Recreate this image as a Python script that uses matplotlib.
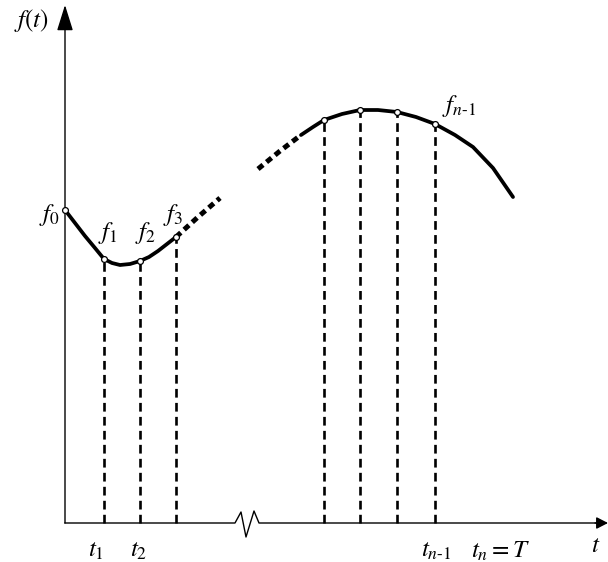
import matplotlib.pyplot as plt

plt.rcParams['mathtext.fontset'] = 'stix'
plt.rcParams['font.family'] = 'Liberation Serif'

# curve pieces (t along the horizontal axis, f up from it)
t_left = [0, 10, 20, 30, 39, 47, 55, 65, 75, 84, 93, 102, 111]
f_left = [313, 300, 287, 275, 264, 260, 258, 259, 262, 266, 272, 279, 286]
t_dot1 = [111, 133, 155]
f_dot1 = [286, 306, 325]
t_dot2 = [193, 215, 236]
f_dot2 = [354, 372, 388]
t_right = [236, 248, 259, 277, 295, 313, 332, 351, 370, 390, 408, 428, 448]
f_right = [388, 396, 403, 409, 413, 413, 411, 406, 399, 388, 376, 355, 326]

# sample points with their drop lines
t_samples = [39, 75, 111, 259, 295, 332, 370]
f_samples = [264, 262, 286, 403, 413, 411, 399]
t_start, f_start = 0, 313

# axis with the break mark
axis_t = [0, 170, 176, 181, 189, 194, 536]
axis_f = [0, 0, 11, -14, 12, 0, 0]

fig = plt.figure(figsize=(6.08, 5.62), dpi=100)
ax = fig.add_axes([0, 0, 1, 1])
ax.set_xlim(-65, 543)
ax.set_ylim(-39, 523)
ax.axis('off')

# axes
ax.plot(axis_t, axis_f, color='black', lw=1.0)
ax.annotate('', xy=(0, 518), xytext=(0, 0),
            arrowprops=dict(arrowstyle='-|>,head_length=1.6,head_width=0.5',
                            mutation_scale=10, lw=1.0, color='black',
                            shrinkA=0, shrinkB=0))
ax.annotate('', xy=(543, 0), xytext=(530, 0),
            arrowprops=dict(arrowstyle='-|>,head_length=0.7,head_width=0.36',
                            mutation_scale=10, lw=1.0, color='black',
                            shrinkA=0, shrinkB=0))

# dashed drop lines
for t, f in zip(t_samples, f_samples):
    ax.plot([t, t], [0, f], color='black', lw=1.9, linestyle=(0, (3.3, 2.0)))

# the function
ax.plot(t_left, f_left, color='black', lw=2.7, solid_capstyle='round', solid_joinstyle='round')
ax.plot(t_right, f_right, color='black', lw=2.7, solid_capstyle='round', solid_joinstyle='round')
for tt, ff in [(t_dot1, f_dot1), (t_dot2, f_dot2)]:
    ax.plot(tt, ff, color='black', lw=3.6, linestyle=(0, (1.3, 0.9)))

ax.plot([t_start] + t_samples, [f_start] + f_samples, linestyle='none', marker='o',
        markersize=4.2, markerfacecolor='white', markeredgecolor='black',
        markeredgewidth=0.9, zorder=5)

# labels
fs = 18
ax.text(-33, 503, r'$f(t)$', fontsize=fs, ha='center', va='center')
ax.text(-5, 308, r'$f_0$', fontsize=fs, ha='right', va='center')
ax.text(43, 290, r'$f_1$', fontsize=fs, ha='center', va='center')
ax.text(80, 290, r'$f_2$', fontsize=fs, ha='center', va='center')
ax.text(108, 308, r'$f_3$', fontsize=fs, ha='center', va='center')
ax.text(394, 417, r'$f_{n\text{-}1}$', fontsize=fs, ha='center', va='center')
ax.text(31, -28, r'$t_1$', fontsize=fs, ha='center', va='center')
ax.text(74, -28, r'$t_2$', fontsize=fs, ha='center', va='center')
ax.text(371, -28, r'$t_{n\text{-}1}$', fontsize=fs, ha='center', va='center')
ax.text(435, -28, r'$t_n = T$', fontsize=fs, ha='center', va='center')
ax.text(531, -23, r'$t$', fontsize=fs, ha='center', va='center')

fig.savefig('out.png', dpi=100, facecolor='white')
